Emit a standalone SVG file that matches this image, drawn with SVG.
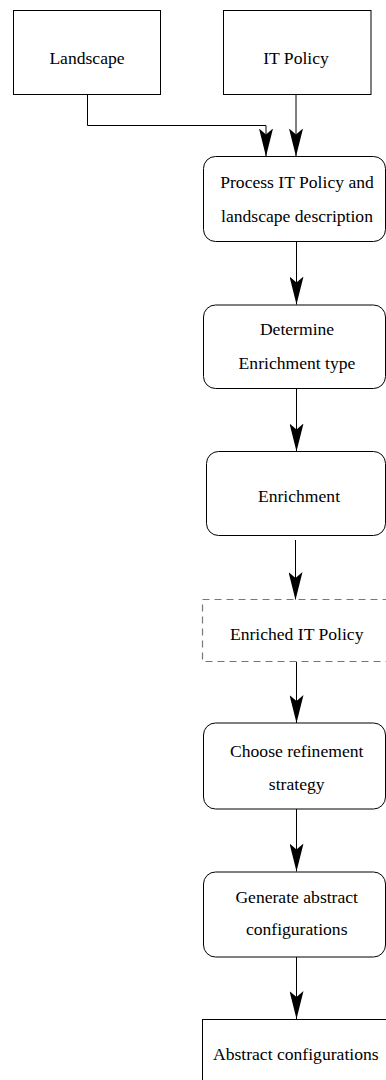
<svg xmlns="http://www.w3.org/2000/svg" width="386" height="1080" viewBox="0 0 386 1080">
<style>
.box{fill:#fff;stroke:#000;stroke-width:1}
.dash{fill:#fff;stroke:#777;stroke-width:1.2;stroke-dasharray:7 5}
.t{font-family:"Liberation Serif","Times New Roman",serif;font-size:17.6px;fill:#000;text-anchor:middle}
.c{fill:none;stroke:#000;stroke-width:1;marker-end:url(#ah)}
</style>
<defs>
<marker id="ah" viewBox="0 -7 28 14" refX="28" refY="0" markerWidth="28" markerHeight="14" markerUnits="userSpaceOnUse" orient="auto">
<path d="M28,0 L0,-7 L6,0 L0,7 Z" fill="#000"/>
</marker>
</defs>
<rect width="386" height="1080" fill="#fff"/>
<g id="connectors">
<path class="c" d="M87.5,94.5 V125.5 H266 V156.5"/>
<path class="c" d="M296,94.5 V156.5"/>
<path class="c" d="M296.5,241.5 V304.5"/>
<path class="c" d="M296.5,388.5 V451.5"/>
<path class="c" d="M295.5,540 V600"/>
<path class="c" d="M296.5,661.5 V723"/>
<path class="c" d="M296.5,809 V871.5"/>
<path class="c" d="M296.5,957 V1019"/>
</g>
<g id="landscape">
<rect class="box" x="13.5" y="10.5" width="147" height="84"/>
<text class="t" x="87" y="63.5">Landscape</text>
</g>
<g id="it-policy">
<rect class="box" x="223.5" y="10.5" width="147.5" height="84"/>
<text class="t" x="296" y="63.5">IT Policy</text>
</g>
<g id="process">
<rect class="box" x="203.5" y="156.5" width="182" height="85" rx="12"/>
<text class="t" x="297" y="188">Process IT Policy and</text>
<text class="t" x="297" y="221.7">landscape description</text>
</g>
<g id="determine">
<rect class="box" x="203.5" y="305" width="182" height="83.5" rx="12"/>
<text class="t" x="297" y="335">Determine</text>
<text class="t" x="297" y="368.5">Enrichment type</text>
</g>
<g id="enrichment">
<rect class="box" x="206.5" y="451.5" width="179" height="84" rx="12"/>
<text class="t" x="299" y="501.7">Enrichment</text>
</g>
<g id="enriched-it-policy">
<rect class="dash" x="202.5" y="599.5" width="190" height="62"/>
<text class="t" x="296.7" y="640">Enriched IT Policy</text>
</g>
<g id="choose">
<rect class="box" x="203.5" y="723" width="182" height="86" rx="12"/>
<text class="t" x="296.7" y="756.7">Choose refinement</text>
<text class="t" x="296.7" y="790">strategy</text>
</g>
<g id="generate">
<rect class="box" x="203.5" y="872" width="182" height="85" rx="12"/>
<text class="t" x="296.7" y="903.3">Generate abstract</text>
<text class="t" x="296.7" y="935">configurations</text>
</g>
<g id="abstract-configurations">
<rect class="box" x="202.5" y="1019.5" width="190" height="100"/>
<text class="t" x="295.8" y="1060">Abstract configurations</text>
</g>
</svg>
